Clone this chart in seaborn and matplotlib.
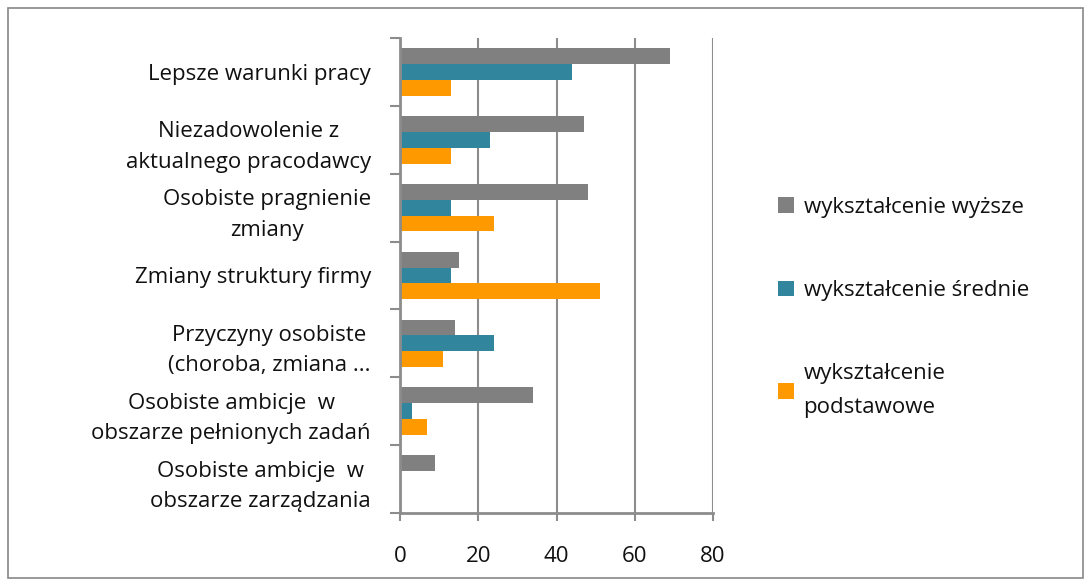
import pandas as pd
import matplotlib.pyplot as plt
import seaborn as sns
from matplotlib.patches import Rectangle
from matplotlib.ticker import FixedLocator

categories = [
    'Lepsze warunki pracy',
    'Niezadowolenie z\naktualnego pracodawcy',
    'Osobiste pragnienie\nzmiany',
    'Zmiany struktury firmy',
    'Przyczyny osobiste\n(choroba, zmiana ...',
    'Osobiste ambicje  w\nobszarze pełnionych zadań',
    'Osobiste ambicje  w\nobszarze zarządzania',
]
series = ['wykształcenie wyższe', 'wykształcenie średnie', 'wykształcenie\npodstawowe']
wyzsze = [69, 47, 48, 15, 14, 34, 9]
srednie = [44, 23, 13, 13, 24, 3, 0]
podstawowe = [13, 13, 24, 51, 11, 7, 0]
colors = ['#808080', '#31859C', '#FF9900']

rows = []
for name, vals in zip(series, [wyzsze, srednie, podstawowe]):
    for c, v in zip(categories, vals):
        rows.append({'cat': c, 'val': v, 'edu': name})
df = pd.DataFrame(rows)

sns.set_theme(style="white")
plt.rcParams['font.family'] = ['Open Sans', 'DejaVu Sans']
plt.rcParams['text.color'] = '#111111'
plt.rcParams['xtick.labelcolor'] = '#111111'
plt.rcParams['ytick.labelcolor'] = '#111111'

fig = plt.figure(figsize=(10.9, 5.86), dpi=100)
ax = fig.add_axes([400 / 1090, 1 - 513 / 586, 313 / 1090, 475 / 586])

sns.barplot(data=df, y='cat', x='val', hue='edu', orient='h', palette=colors,
            width=0.7, ax=ax, saturation=1, edgecolor='none')

grid_c = '#8c8c8c'
ax.set_xlim(0, 80)
ax.set_ylim(len(categories) - 0.5, -0.5)
ax.set_xticks([0, 20, 40, 60, 80])
ax.xaxis.grid(True, color=grid_c, linewidth=1.5)
ax.set_axisbelow(True)
ax.set_xlabel('')
ax.set_ylabel('')
for s in ['top', 'right']:
    ax.spines[s].set_visible(False)
for s in ['left', 'bottom']:
    ax.spines[s].set_color(grid_c)
    ax.spines[s].set_linewidth(2)

ax.tick_params(axis='x', length=6, width=1.5, color=grid_c, pad=18, labelsize=16,
               direction='out', bottom=True)
ax.tick_params(axis='y', which='major', length=0, pad=21, labelsize=16)
ax.yaxis.set_minor_locator(FixedLocator([i - 0.5 for i in range(len(categories) + 1)]))
ax.tick_params(axis='y', which='minor', length=7, width=1.5, color=grid_c, left=True)
for lab in ax.get_yticklabels():
    lab.set_multialignment('center')
    lab.set_linespacing(1.6)

handles, labels = ax.get_legend_handles_labels()
leg = ax.legend(handles, labels, loc='upper left', bbox_to_anchor=(758 / 1090, 1 - 177 / 586),
                bbox_transform=fig.transFigure, frameon=False, fontsize=16,
                handlelength=0.7, handleheight=0.7, handletextpad=0.45, labelspacing=2.8)
for t in leg.get_texts():
    t.set_linespacing(1.8)

fig.patches.append(Rectangle((8 / 1090, 8 / 586), 1075 / 1090, 570 / 586,
                             transform=fig.transFigure, fill=False,
                             edgecolor='#888888', linewidth=1.2))

plt.savefig('out.png', dpi=100)
